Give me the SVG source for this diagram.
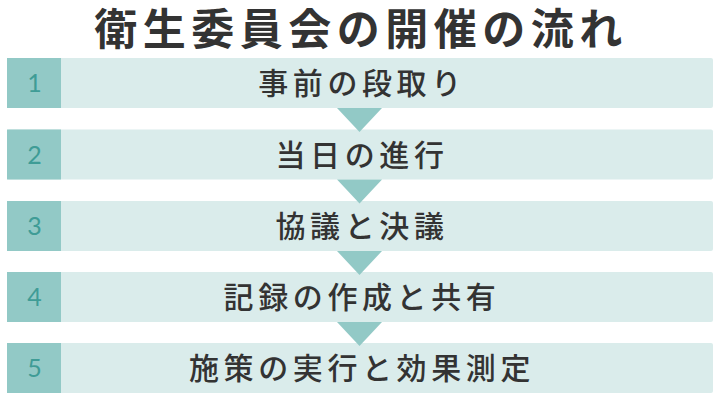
<svg xmlns="http://www.w3.org/2000/svg" width="720" height="400" viewBox="0 0 720 400">
<style>
.bg{fill:#daeceb}
.num{fill:#92c9c6}
.n{font-family:"Lato","Noto Sans",sans-serif;font-size:25px;fill:#3f9c96;text-anchor:middle}
.t{font-family:"Noto Sans CJK JP",sans-serif;font-size:30px;font-weight:500;fill:#333;text-anchor:middle;letter-spacing:4.6px}
.tri{fill:#92c9c6}
</style>
<rect width="720" height="400" fill="#fff"/>
<text x="361" y="45" font-family="Noto Sans CJK JP, sans-serif" font-size="43" font-weight="bold" fill="#333" text-anchor="middle" letter-spacing="5.5">衛生委員会の開催の流れ</text>
<g id="step1"><rect class="bg" x="7" y="58" width="706" height="50" rx="2"/><rect class="num" x="7" y="58" width="54" height="50"/><text class="n" x="34.5" y="92">1</text><text class="t" x="362" y="94">事前の段取り</text></g>
<g id="step2"><rect class="bg" x="7" y="129.5" width="706" height="50" rx="2"/><rect class="num" x="7" y="129.5" width="54" height="50"/><text class="n" x="34.5" y="163.5">2</text><text class="t" x="362" y="165.5">当日の進行</text></g>
<g id="step3"><rect class="bg" x="7" y="201" width="706" height="50" rx="2"/><rect class="num" x="7" y="201" width="54" height="50"/><text class="n" x="34.5" y="235">3</text><text class="t" x="362" y="237">協議と決議</text></g>
<g id="step4"><rect class="bg" x="7" y="272" width="706" height="50" rx="2"/><rect class="num" x="7" y="272" width="54" height="50"/><text class="n" x="34.5" y="306">4</text><text class="t" x="362" y="308">記録の作成と共有</text></g>
<g id="step5"><rect class="bg" x="7" y="343" width="706" height="50" rx="2"/><rect class="num" x="7" y="343" width="54" height="50"/><text class="n" x="34.5" y="377">5</text><text class="t" x="362" y="379">施策の実行と効果測定</text></g>
<g id="connectors">
<polygon class="tri" points="337,108 382,108 359.5,132"/>
<polygon class="tri" points="337,179.5 382,179.5 359.5,203.5"/>
<polygon class="tri" points="337,251 382,251 359.5,275"/>
<polygon class="tri" points="337,322 382,322 359.5,346"/>
</g>
</svg>
